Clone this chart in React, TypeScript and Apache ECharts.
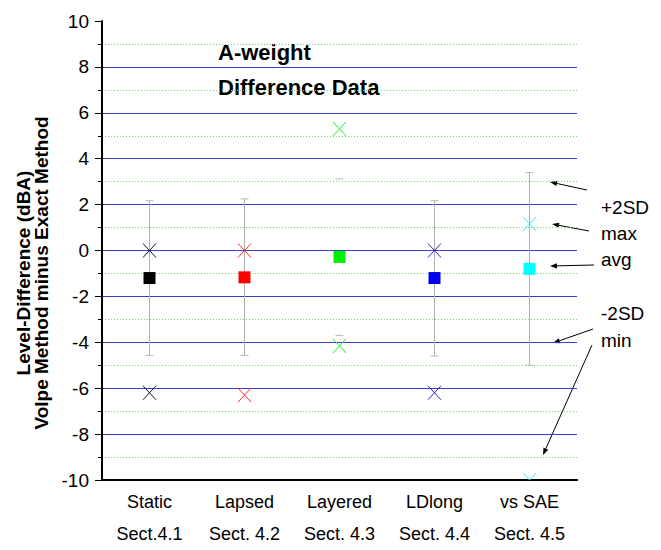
import React, { useEffect, useRef } from "react";
import * as echarts from "echarts";

// ---- data ----
const categories = [
  "Static\nSect.4.1",
  "Lapsed\nSect. 4.2",
  "Layered\nSect. 4.3",
  "LDlong\nSect. 4.4",
  "vs SAE\nSect. 4.5",
];
const avgValues = [-1.2, -1.17, -0.28, -1.2, -0.8];
const maxValues = [0.0, 0.0, 5.3, 0.0, 1.16];
const minValues = [-6.2, -6.3, -4.16, -6.2, -10.0];
const plus2SD = [2.17, 2.25, 3.12, 2.17, 3.4];
const minus2SD = [-4.57, -4.57, -3.7, -4.6, -5.0];
const showBarLine = [1, 1, 0, 1, 1];
const yTicks = { min: -10, max: 10, interval: 2 };

const squareColors = ["#000000", "#ff0000", "#00ee00", "#0000ee", "#00ffff"];
const crossColors = ["#111111", "#ff2a2a", "#22ee22", "#2222dd", "#33eeee"];

const annotations = [
  { text: "+2SD", y: 207 },
  { text: "max", y: 233 },
  { text: "avg", y: 259 },
  { text: "-2SD", y: 313 },
  { text: "min", y: 340 },
];
const arrows = [
  [587, 190, 550, 182],
  [589, 231, 552, 224],
  [594, 265, 550, 266],
  [593, 329, 553, 343],
  [592, 345, 543, 455],
];

function arrowGraphic(a: number[]) {
  const [x1, y1, x2, y2] = a;
  const ang = Math.atan2(y2 - y1, x2 - x1);
  const L = 7;
  const W = 2.6;
  const bx = x2 - L * Math.cos(ang);
  const by = y2 - L * Math.sin(ang);
  const px = -Math.sin(ang) * W;
  const py = Math.cos(ang) * W;
  return [
    {
      type: "line",
      shape: { x1, y1, x2: bx, y2: by },
      style: { stroke: "#000", lineWidth: 1 },
    },
    {
      type: "polygon",
      shape: {
        points: [
          [x2, y2],
          [bx + px, by + py],
          [bx - px, by - py],
        ],
      },
      style: { fill: "#000" },
    },
  ];
}

export default function App() {
  const ref = useRef<HTMLDivElement>(null);
  useEffect(() => {
    if (!ref.current) return;
    const chart = echarts.init(ref.current, null, { renderer: "svg" });
    const font = "'Liberation Sans', Arial, sans-serif";

    const splitColors = ["transparent"];
    for (let i = 0; i < 9; i++) splitColors.push("#3c3cc8");
    splitColors.push("transparent");

    const errData = categories.map((_, i) => [i, minus2SD[i], plus2SD[i], showBarLine[i]]);
    const maxData = categories.map((_, i) => [i, maxValues[i]]);
    const minData = categories.map((_, i) => [i, minValues[i]]);
    const avgData = categories.map((_, i) => ({
      value: [i, avgValues[i]],
      itemStyle: { color: squareColors[i], opacity: 1 },
    }));

    const crossRender = (params: any, api: any) => {
      const p = api.coord([api.value(0), api.value(1)]);
      const w = 6.5;
      const h = 7;
      const c = crossColors[params.dataIndex];
      return {
        type: "group",
        children: [
          {
            type: "line",
            shape: { x1: p[0] - w, y1: p[1] - h, x2: p[0] + w, y2: p[1] + h },
            style: { stroke: c, lineWidth: 1 },
          },
          {
            type: "line",
            shape: { x1: p[0] + w, y1: p[1] - h, x2: p[0] - w, y2: p[1] + h },
            style: { stroke: c, lineWidth: 1 },
          },
        ],
      };
    };

    const graphics: any[] = [
      {
        type: "text",
        left: 218,
        top: 35,
        style: {
          text: "A-weight\nDifference Data",
          font: `bold 22px ${font}`,
          lineHeight: 35,
          fill: "#000",
        },
      },
      {
        type: "text",
        x: 23,
        y: 273,
        rotation: Math.PI / 2,
        style: {
          text: "Level-Difference (dBA)",
          font: `bold 19px ${font}`,
          fill: "#000",
          align: "center",
          verticalAlign: "middle",
        },
      },
      {
        type: "text",
        x: 41,
        y: 273,
        rotation: Math.PI / 2,
        style: {
          text: "Volpe Method minus Exact Method",
          font: `bold 19px ${font}`,
          fill: "#000",
          align: "center",
          verticalAlign: "middle",
        },
      },
    ];
    annotations.forEach((a) => {
      graphics.push({
        type: "text",
        x: 601,
        y: a.y,
        style: {
          text: a.text,
          font: `19px ${font}`,
          fill: "#000",
          align: "left",
          verticalAlign: "middle",
        },
      });
    });
    arrows.forEach((a) => graphics.push(...arrowGraphic(a)));

    chart.setOption({
      animation: false,
      backgroundColor: "#ffffff",
      grid: { left: 102, right: 84, top: 21, bottom: 69, containLabel: false },
      xAxis: {
        type: "category",
        data: categories,
        boundaryGap: true,
        axisLine: { onZero: false, lineStyle: { color: "#000", width: 2 } },
        axisTick: { alignWithLabel: true, length: 8, lineStyle: { color: "#000", width: 1 } },
        axisLabel: {
          color: "#000",
          fontFamily: font,
          fontSize: 18,
          lineHeight: 32,
          margin: 6,
        },
        splitLine: { show: false },
      },
      yAxis: {
        type: "value",
        min: yTicks.min,
        max: yTicks.max,
        interval: yTicks.interval,
        axisLine: { show: true, lineStyle: { color: "#000", width: 2 } },
        axisTick: { show: true, length: 7, lineStyle: { color: "#000", width: 1 } },
        minorTick: { show: true, splitNumber: 2, length: 4, lineStyle: { color: "#000", width: 1 } },
        axisLabel: { color: "#000", fontFamily: font, fontSize: 19, margin: 13 },
        splitLine: { show: true, lineStyle: { color: splitColors, width: 1 } },
        minorSplitLine: { show: true, lineStyle: { color: "#66dd66", width: 1, type: [1, 2] } },
      },
      series: [
        {
          type: "custom",
          name: "2SD",
          data: errData,
          z: 3,
          renderItem: (params: any, api: any) => {
            const i = api.value(0);
            const top = api.coord([i, api.value(2)]);
            const bot = api.coord([i, api.value(1)]);
            const cw = 4;
            const children: any[] = [
              {
                type: "line",
                shape: { x1: top[0] - cw, y1: top[1], x2: top[0] + cw, y2: top[1] },
                style: { stroke: "#b8b8b8", lineWidth: 1 },
              },
              {
                type: "line",
                shape: { x1: bot[0] - cw, y1: bot[1], x2: bot[0] + cw, y2: bot[1] },
                style: { stroke: "#b8b8b8", lineWidth: 1 },
              },
            ];
            if (api.value(3)) {
              children.push({
                type: "line",
                shape: { x1: top[0], y1: top[1], x2: bot[0], y2: bot[1] },
                style: { stroke: "#b0b0b0", lineWidth: 1 },
              });
            }
            return { type: "group", children };
          },
        },
        {
          type: "custom",
          name: "max",
          data: maxData,
          clip: true,
          z: 4,
          renderItem: crossRender,
        },
        {
          type: "custom",
          name: "min",
          data: minData,
          clip: true,
          z: 4,
          renderItem: crossRender,
        },
        {
          type: "scatter",
          name: "avg",
          data: avgData,
          symbol: "rect",
          symbolSize: 12,
          itemStyle: { opacity: 1 },
          z: 5,
        },
      ],
      graphic: graphics,
    });
    return () => chart.dispose();
  }, []);
  return <div ref={ref} style={{ width: 661, height: 550, position: "absolute", left: 0, top: 0 }} />;
}
